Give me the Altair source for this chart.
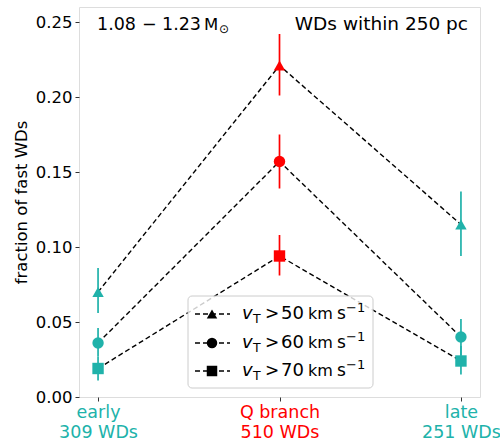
import altair as alt
import pandas as pd

# ---- data ----
groups = ["early", "Q branch", "late"]
group_pos = [0, 1, 2]
group_counts = [309, 510, 251]
group_colors = ["#20b2aa", "#ff0000", "#20b2aa"]

thresholds = [50, 60, 70]
shapes = ["triangle-up", "circle", "square"]

frac_50 = [0.070, 0.221, 0.115]
lo_50 = [0.056, 0.201, 0.094]
hi_50 = [0.086, 0.242, 0.137]

frac_60 = [0.036, 0.157, 0.040]
lo_60 = [0.027, 0.139, 0.028]
hi_60 = [0.046, 0.175, 0.052]

frac_70 = [0.019, 0.094, 0.024]
lo_70 = [0.011, 0.081, 0.015]
hi_70 = [0.027, 0.108, 0.034]

y_ticks = [0.0, 0.05, 0.10, 0.15, 0.20, 0.25]

FONT = "DejaVu Sans"

rows = []
for thr, shp, fr, lo, hi in zip(thresholds, shapes,
                                 [frac_50, frac_60, frac_70],
                                 [lo_50, lo_60, lo_70],
                                 [hi_50, hi_60, hi_70]):
    for g, p, c, f, l, h in zip(groups, group_pos, group_colors, fr, lo, hi):
        rows.append(dict(threshold=thr, shape=shp, group=g, pos=p, color=c,
                         frac=f, lo=l, hi=h))
df = pd.DataFrame(rows)

label_expr = " : ".join(
    f"datum.value == {p} ? ['{g}', '{n} WDs']" for p, g, n in zip(group_pos, groups, group_counts)
) + " : ''"
label_color = {"condition": {"test": "datum.value == 1", "value": "#ff0000"}, "value": "#20b2aa"}

x_enc = alt.X("pos:Q", scale=alt.Scale(domain=[-0.105, 2.105], nice=False, zero=False),
              axis=alt.Axis(values=group_pos, labelExpr=label_expr, labelColor=label_color,
                            labelFontSize=17.5, labelLineHeight=20, labelPadding=2,
                            labelFont=FONT, grid=False, domain=False, tickSize=4,
                            tickColor="#333", title=None, labelAngle=0))
y_scale = alt.Scale(domain=[0, 0.26], nice=False, zero=False)
y_axis = alt.Axis(values=y_ticks, format=".2f", grid=False, domain=False, tickSize=4,
                  tickColor="#333", labelFontSize=16.5, labelFont=FONT, labelColor="black",
                  labelPadding=3, title="fraction of fast WDs", titleFont=FONT,
                  titleFontSize=16.5, titleFontWeight="normal", titleColor="black",
                  titlePadding=6)

base = alt.Chart(df)

lines = base.mark_line(color="black", strokeDash=[5, 3], strokeWidth=1.4).encode(
    x=x_enc, y=alt.Y("frac:Q", scale=y_scale, axis=y_axis), detail="threshold:N",
    order="pos:Q")

errs = base.mark_rule(strokeWidth=1.7).encode(
    x="pos:Q", y=alt.Y("lo:Q", scale=y_scale), y2="hi:Q",
    color=alt.Color("color:N", scale=None))

pts = base.mark_point(filled=True, size=130, opacity=1).encode(
    x="pos:Q", y=alt.Y("frac:Q", scale=y_scale),
    color=alt.Color("color:N", scale=None),
    shape=alt.Shape("shape:N", scale=None))

layers = [lines, errs, pts]


def txt(text, x, y, size, align="left", baseline="alphabetic", style="normal"):
    return alt.Chart(pd.DataFrame({"a": [0]})).mark_text(
        text=text, font=FONT, fontSize=size, align=align, baseline=baseline,
        fontStyle=style, color="black").encode(x=alt.value(x), y=alt.value(y))


ann = alt.Chart(pd.DataFrame({"a": [0]}))
# annotations
layers.append(txt("1.08", 18, 23, 17.5))
layers.append(txt("\u2212", 63, 23, 17.5))
layers.append(txt("1.23", 83, 23, 17.5))
layers.append(txt("M", 125, 23, 16.5))
layers.append(txt("\u2299", 140, 26, 12))
layers.append(txt("WDs within 250 pc", 389, 23, 18.5, align="right"))

# legend
layers.append(ann.mark_rect(fill="white", fillOpacity=0.8, stroke="#cccccc", strokeWidth=1,
                            cornerRadius=4).encode(
    x=alt.value(109), x2=alt.value(294), y=alt.value(289), y2=alt.value(381)))
row_y = [307, 336, 364]
for thr, shp, ry in zip(thresholds, shapes, row_y):
    layers.append(ann.mark_rule(color="black", strokeDash=[5, 3], strokeWidth=1.4).encode(
        x=alt.value(116), x2=alt.value(151), y=alt.value(ry)))
    layers.append(ann.mark_point(filled=True, size=110, opacity=1, color="black",
                                 shape=shp).encode(x=alt.value(133), y=alt.value(ry)))
    layers.append(txt("v", 163, ry, 18, baseline="middle", style="italic"))
    layers.append(txt("T", 174, ry + 5, 12.5, baseline="middle"))
    layers.append(txt(">", 186, ry, 17, baseline="middle"))
    layers.append(txt(str(thr), 202, ry, 18, baseline="middle"))
    layers.append(txt("km", 229, ry, 16, baseline="middle"))
    layers.append(txt("s", 258, ry, 17, baseline="middle"))
    layers.append(txt("\u22121", 267, ry - 6, 13, baseline="middle"))

chart = alt.layer(*layers).properties(
    width=401, height=390,
    autosize=alt.AutoSizeParams(type="none"),
    padding={"left": 79, "top": 7, "right": 20, "bottom": 44},
).configure_view(stroke="#555555", strokeWidth=1.3).configure(background="white")

chart.save("out.html", embed_options={"renderer": "svg", "actions": False})
